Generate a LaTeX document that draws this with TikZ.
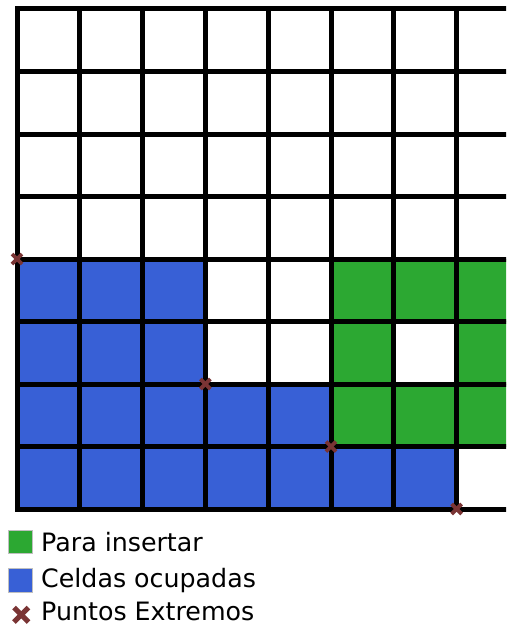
\documentclass[tikz,border=0pt]{standalone}
\usepackage{fontspec}
\setmainfont{DejaVu Sans}
\definecolor{ggreen}{RGB}{44,168,50}
\definecolor{gblue}{RGB}{56,96,214}
\definecolor{xred}{RGB}{122,52,52}
\tikzset{
  gridline/.style={line width=5pt, black, line cap=rect},
  cellfill/.style={draw=gray!60, line width=0.6pt},
  xmark/.style={xred, line width=3.8pt},
  xmarkbig/.style={xred, line width=5.2pt},
  legendtext/.style={anchor=base west, font=\fontsize{25.3}{28}\selectfont, inner sep=0pt}
}
\begin{document}
\begin{tikzpicture}[x=1pt,y=-1pt]
\useasboundingbox (0,0) rectangle (506,626);
\begin{scope}
\clip (0,0) rectangle (506,626);
\begin{scope}[shift={(17,9)}, x=62.8pt, y=-62.5pt]
  % filled cells: col/row/colour
  \foreach \c/\r/\col in {0/4/gblue,1/4/gblue,2/4/gblue,5/4/ggreen,6/4/ggreen,7/4/ggreen,
                          0/5/gblue,1/5/gblue,2/5/gblue,5/5/ggreen,7/5/ggreen,
                          0/6/gblue,1/6/gblue,2/6/gblue,3/6/gblue,4/6/gblue,5/6/ggreen,6/6/ggreen,7/6/ggreen,
                          0/7/gblue,1/7/gblue,2/7/gblue,3/7/gblue,4/7/gblue,5/7/gblue,6/7/gblue}
    \filldraw[cellfill, fill=\col] (\c,\r) rectangle ++(1,1);
  \foreach \i in {0,...,8} {
    \draw[gridline] (\i,0) -- (\i,8);
    \draw[gridline] (0,\i) -- (8.5,\i);
  }
  % extreme points
  \foreach \px/\py in {0/4, 3/6, 5/7, 7/8} {
    \draw[xmark] ([shift={(-5pt,-5pt)}]\px,\py) -- ([shift={(5pt,5pt)}]\px,\py);
    \draw[xmark] ([shift={(-5pt,5pt)}]\px,\py) -- ([shift={(5pt,-5pt)}]\px,\py);
  }
\end{scope}
\end{scope}
% legend
\fill[ggreen, draw=gray!50, line width=0.6pt] (8.5,530.5) rectangle (32,553.5);
\fill[gblue, draw=gray!50, line width=0.6pt] (8.5,568.5) rectangle (32,592.5);
\draw[xmarkbig] (14,607.5) -- (28.5,622);
\draw[xmarkbig] (14,622) -- (28.5,607.5);
\node[legendtext] (l1) at (41,551) {Para insertar};
\node[legendtext] (l2) at (41,587) {Celdas ocupadas};
\node[legendtext] (l3) at (41,620) {Puntos Extremos};
\end{tikzpicture}
\end{document}
